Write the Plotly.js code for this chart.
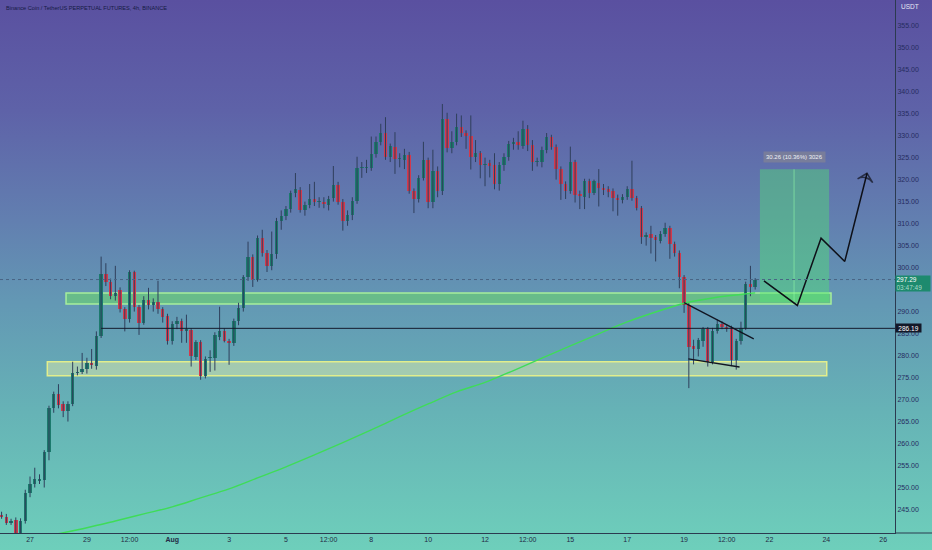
<!DOCTYPE html>
<html>
<head>
<meta charset="utf-8">
<script src="https://cdn.plot.ly/plotly-3.0.1.min.js"></script>
<style>
  html, body { margin: 0; padding: 0; }
  #chart { width: 932px; height: 550px;
    background: linear-gradient(to bottom, #5a50a0 0%, #5e62a8 20%, #627fb0 40%, #6398b4 55%, #66b3b6 75%, #6ecfbb 100%); }
</style>
</head>
<body>
<div id="chart"></div>
<script>
// ---- Data: BNB/USDT perpetual, 4h candles starting 2022-07-26 00:00 ----
const firstCandle = '2022-07-26T00:00:00Z';
const opens = [243.8,243.4,241.9,242.7,239.5,242.3,248.8,250.8,251.5,251.8,258.0,268.1,271.3,269.0,267.3,269.0,276.1,276.2,276.9,278.3,
  277.7,284.5,298.6,296.8,293.6,294.9,290.6,288.3,298.9,291.0,287.5,292.7,291.5,292.2,290.5,288.9,283.2,287.2,287.9,285.7,
  285.8,279.6,283.0,275.4,279.4,279.4,284.3,285.6,283.4,282.8,287.9,290.8,297.8,302.5,297.2,306.7,303.3,300.4,303.1,310.7,
  311.8,313.3,316.9,317.7,313.0,314.3,315.5,315.0,315.0,314.2,315.8,318.8,315.0,310.6,312.0,315.2,322.6,322.7,322.7,325.8,
  328.6,330.5,325.1,327.4,324.6,324.5,325.5,317.4,315.6,320.3,324.5,314.9,322.0,317.4,333.7,327.3,328.6,331.9,330.5,330.0,
  325.1,326.0,323.4,323.7,323.3,319.0,323.3,325.2,328.0,328.6,327.7,331.5,327.9,324.1,324.1,326.8,329.6,327.4,322.4,319.0,
  317.5,323.9,316.7,316.0,319.6,317.0,319.3,318.2,317.8,317.5,315.9,315.4,316.0,317.8,315.8,313.5,307.0,307.7,306.9,306.1,
  307.7,309.0,305.4,303.4,297.8,291.5,282.2,281.5,283.2,286.0,278.6,285.5,287.2,286.5,286.2,279.0,283.2,286.2,296.3,295.6];
const highs = [244.5,244.0,242.9,243.2,243.0,249.5,252.5,254.5,253.0,258.5,268.6,271.8,273.5,269.6,269.6,278.6,277.5,280.6,279.5,281.5,
  285.5,302.5,301.0,297.5,300.4,295.5,291.0,299.4,299.3,291.5,293.5,295.4,293.0,297.0,291.0,289.5,287.8,288.8,288.4,289.3,
  286.2,283.5,283.5,279.8,281.2,285.3,291.1,286.2,283.8,288.4,292.0,298.3,305.9,303.0,307.3,308.6,304.0,308.2,311.3,313.0,
  314.0,317.5,321.5,318.3,315.0,319.0,319.5,316.0,316.0,316.3,323.1,319.5,315.6,313.0,316.0,325.2,324.0,324.5,329.8,329.8,
  332.7,334.2,328.2,330.8,326.0,327.0,326.3,318.0,321.0,328.6,325.0,326.8,323.0,337.2,335.2,331.0,335.0,334.6,331.2,334.6,
  329.0,326.5,325.0,324.5,326.0,324.0,326.0,328.8,329.5,331.0,333.4,332.4,329.0,325.0,327.5,330.6,330.2,328.0,323.0,319.6,
  327.5,324.5,317.5,320.2,320.2,320.0,322.4,319.0,318.5,318.0,316.6,316.7,318.5,324.3,316.3,314.0,308.0,309.5,307.4,308.3,
  310.2,309.5,305.9,303.9,298.3,292.0,283.6,284.0,286.5,286.5,286.3,288.2,287.8,287.0,286.8,283.8,287.7,296.8,300.4,297.6];
const lows = [242.9,241.5,241.5,237.5,238.5,241.8,247.8,250.0,250.8,250.0,256.2,267.0,268.0,266.0,265.0,268.5,275.5,275.8,275.9,277.0,
  276.8,284.0,295.8,292.8,292.5,289.8,285.5,287.5,290.0,284.7,287.0,290.5,290.0,289.5,287.5,282.5,282.5,286.0,282.9,282.9,
  277.5,279.0,274.5,274.8,276.3,276.6,283.5,283.0,277.9,282.2,286.9,290.0,297.0,295.6,296.8,302.5,299.0,299.4,302.0,308.6,
  310.8,312.5,316.0,312.5,311.8,313.5,314.0,313.6,313.5,313.0,315.0,314.3,308.4,309.5,310.8,314.5,320.4,321.5,322.0,325.0,
  327.8,324.5,324.0,321.3,322.8,322.4,316.8,312.4,314.8,319.8,313.5,313.5,316.0,316.5,326.2,326.0,327.8,329.7,327.0,322.3,
  324.0,320.3,318.5,320.5,317.8,317.5,322.0,324.3,326.8,326.8,327.0,326.5,322.0,323.0,322.8,326.0,326.8,320.0,315.4,315.6,
  316.8,314.8,313.3,313.3,315.8,316.5,313.9,316.5,316.0,312.8,311.8,314.6,315.4,315.2,313.0,305.4,305.0,303.2,301.4,305.5,
  307.0,302.0,302.5,295.3,289.7,272.6,278.0,279.8,282.0,277.5,278.0,285.0,286.0,285.4,277.6,276.8,282.5,285.8,293.5,295.0];
const closes = [243.2,241.9,242.5,238.6,242.3,248.8,250.8,252.0,252.0,258.0,268.1,271.3,268.8,267.3,269.0,276.1,276.3,276.9,278.3,277.8,
  284.5,298.6,296.8,293.6,294.3,290.6,288.3,298.9,291.0,287.5,292.7,291.5,292.2,290.5,288.7,283.2,287.2,287.9,285.7,285.9,
  279.8,283.0,275.4,279.2,279.7,284.7,285.5,283.4,282.9,287.9,290.8,297.8,302.5,297.2,306.7,303.3,300.4,303.0,310.7,311.8,
  313.3,316.9,317.8,313.0,314.3,315.5,315.0,315.1,314.5,315.7,318.8,315.0,310.6,311.9,315.2,322.6,322.7,322.8,325.8,328.6,
  330.5,325.1,327.6,324.6,324.7,325.6,317.4,315.6,320.3,324.5,314.9,322.0,317.4,333.7,327.3,328.6,331.9,330.5,330.0,325.1,
  326.0,323.3,323.6,323.2,319.0,323.3,325.2,328.0,328.6,327.8,331.5,327.9,324.1,324.3,326.8,329.6,327.4,322.4,319.0,317.5,
  323.9,316.5,316.3,319.6,317.0,319.6,318.2,317.6,317.3,315.8,315.4,316.0,317.8,315.8,313.5,307.0,307.5,306.7,306.2,307.7,
  309.0,305.4,303.4,297.8,291.5,282.0,281.6,283.6,286.0,278.6,285.7,287.2,286.5,286.0,279.0,283.2,286.2,296.3,295.6,297.29];

// Moving average (green curve), sampled once a day
const maDates = ['2022-07-27','2022-07-28','2022-07-29','2022-07-30','2022-07-31','2022-08-01','2022-08-02','2022-08-03',
  '2022-08-04','2022-08-05','2022-08-06','2022-08-07','2022-08-08','2022-08-09','2022-08-10','2022-08-11','2022-08-12',
  '2022-08-13','2022-08-14','2022-08-15','2022-08-16','2022-08-17','2022-08-18','2022-08-19','2022-08-20','2022-08-21','2022-08-21 12:00'];
const maValues = [238.2,239.5,240.85,242.4,244.0,245.6,247.65,249.7,252.2,254.7,257.4,260.2,263.1,266.1,269.0,271.75,273.9,
  276.6,279.4,282.2,284.95,287.65,289.9,291.9,293.1,293.9,294.25];

// Drawings
const upperZone = [291.75, 294.2];   const upperZoneDates = ['2022-07-28 06:24', '2022-08-24 04:00'];
const lowerZone = [275.4, 278.6];    const lowerZoneDates = ['2022-07-27 14:36', '2022-08-24 00:24'];
const levelLine = 286.19;            const levelStart = '2022-07-29 12:00';
const lastPrice = 297.29;            const countdown = '03:47:49';
const wedgeUpper = {x: ['2022-08-19 00:00', '2022-08-21 10:48'], y: [292.05, 283.8]};
const wedgeLower = {x: ['2022-08-19 03:36', '2022-08-20 22:48'], y: [279.25, 277.4]};
const longBox = {x: ['2022-08-21 16:00', '2022-08-24 02:24'], y: [292.1, 322.36], mid: '2022-08-22 20:48'};
const longLabel = '30.26 (10.36%) 3026';
const arrowDates = ['2022-08-21 19:24','2022-08-22 23:36','2022-08-23 19:36','2022-08-24 15:36','2022-08-25 10:24'];
const arrowValues = [296.98, 291.4, 306.7, 301.4, 321.45];

// Axis ticks (295.00 sits under the last-price box in the reference)
const yTicks = [245,250,255,260,265,270,275,280,285,290,300,305,310,315,320,325,330,335,340,345,350,355];
const xTickDates = ['2022-07-27','2022-07-29','2022-07-30 12:00','2022-08-01','2022-08-03','2022-08-05','2022-08-06 12:00',
  '2022-08-08','2022-08-10','2022-08-12','2022-08-13 12:00','2022-08-15','2022-08-17','2022-08-19','2022-08-20 12:00',
  '2022-08-22','2022-08-24','2022-08-26'];
const xTickText = ['27','29','12:00','<b>Aug</b>','3','5','12:00','8','10','12','12:00','15','17','19','12:00','22','24','26'];
const xRange = ['2022-07-25 22:40', '2022-08-26 10:00'];
const yRange = [239.66, 360.84];

// ---- Build ----
const t0 = Date.parse(firstCandle);
const STEP = 4 * 3600 * 1000;
function fmt(ms) { return new Date(ms).toISOString().slice(0, 16).replace('T', ' '); }
const times = opens.map((_, k) => fmt(t0 + k * STEP));

const GREEN = '#1c7a6d', RED = '#d3394c', WICK = '#2f3f5c';
const wx = [], wy = [];
times.forEach((t, k) => { wx.push(t, t, null); wy.push(lows[k], highs[k], null); });
const bodyBase = opens.map((o, k) => Math.min(o, closes[k]));
const bodyLen = opens.map((o, k) => Math.max(Math.abs(closes[k] - o), 0.25));
const bodyCol = opens.map((o, k) => closes[k] >= o ? GREEN : RED);

const traces = [
  {type: 'scatter', mode: 'lines', x: wx, y: wy, line: {color: WICK, width: 1}, hoverinfo: 'skip', showlegend: false},
  {type: 'bar', x: times, y: bodyLen, base: bodyBase, width: STEP * 0.72,
   marker: {color: bodyCol, line: {width: 0}}, showlegend: false},
  {type: 'scatter', mode: 'lines', x: maDates, y: maValues, line: {color: '#3fdc58', width: 1.4, shape: 'spline'}, showlegend: false},
  {type: 'scatter', mode: 'lines+markers', x: arrowDates, y: arrowValues,
   line: {color: '#0e1018', width: 1.5},
   marker: {symbol: arrowValues.map((_, k) => k === arrowValues.length - 1 ? 'arrow-wide-open' : 'circle'),
            size: arrowValues.map((_, k) => k === arrowValues.length - 1 ? 11 : 0),
            angleref: 'previous', color: '#0e1018', line: {width: 1.5, color: '#0e1018'}},
   showlegend: false}
];

const shapes = [
  {type: 'rect', layer: 'below', xref: 'x', yref: 'y', x0: lowerZoneDates[0], x1: lowerZoneDates[1], y0: lowerZone[0], y1: lowerZone[1],
   fillcolor: 'rgba(240,245,170,0.45)', line: {color: '#e2ee8c', width: 1.5}},
  {type: 'rect', layer: 'below', xref: 'x', yref: 'y', x0: upperZoneDates[0], x1: upperZoneDates[1], y0: upperZone[0], y1: upperZone[1],
   fillcolor: 'rgba(110,225,95,0.5)', line: {color: '#a6ee9c', width: 1.5}},
  {type: 'rect', layer: 'below', xref: 'x', yref: 'y', x0: longBox.x[0], x1: longBox.x[1], y0: longBox.y[0], y1: longBox.y[1],
   fillcolor: 'rgba(80,235,110,0.40)', line: {width: 0}},
  {type: 'line', layer: 'below', xref: 'x', yref: 'y', x0: longBox.mid, x1: longBox.mid, y0: longBox.y[0], y1: longBox.y[1],
   line: {color: 'rgba(150,255,170,0.55)', width: 1}},
  {type: 'line', xref: 'paper', yref: 'y', x0: 0, x1: 1, y0: lastPrice, y1: lastPrice, line: {color: '#4a6585', width: 1, dash: 'dot'}},
  {type: 'line', xref: 'x', yref: 'y', x0: levelStart, x1: xRange[1], y0: levelLine, y1: levelLine, line: {color: '#141a2c', width: 1}},
  {type: 'line', xref: 'x', yref: 'y', x0: wedgeUpper.x[0], x1: wedgeUpper.x[1], y0: wedgeUpper.y[0], y1: wedgeUpper.y[1], line: {color: '#111522', width: 1.3}},
  {type: 'line', xref: 'x', yref: 'y', x0: wedgeLower.x[0], x1: wedgeLower.x[1], y0: wedgeLower.y[0], y1: wedgeLower.y[1], line: {color: '#111522', width: 1.3}},
  {type: 'line', xref: 'paper', yref: 'paper', x0: 1, x1: 1.05, y0: 0, y1: 0, line: {color: '#2b3a4f', width: 1}}
];

const annotations = [
  {xref: 'paper', yref: 'paper', x: 0.004, y: 0.985, xanchor: 'left', yanchor: 'middle', showarrow: false,
   text: 'Binance Coin / TetherUS PERPETUAL FUTURES, 4h, BINANCE', font: {family: 'Liberation Sans', size: 5.6, color: '#161b45'}},
  {xref: 'paper', yref: 'paper', x: 1, xshift: 4, y: 0.987, xanchor: 'left', yanchor: 'middle', showarrow: false,
   text: 'USDT', font: {family: 'Liberation Sans', size: 6.5, color: '#e6e8f4'}},
  {xref: 'paper', yref: 'y', x: 1, y: lastPrice, yshift: -3.5, xanchor: 'left', yanchor: 'middle', showarrow: false,
   text: lastPrice.toFixed(2) + '<br><span style="color:#a9dcc9">' + countdown + '</span>',
   bgcolor: '#1d8a6e', width: 33, height: 14, align: 'left', borderpad: 0.5,
   font: {family: 'Liberation Sans', size: 6.5, color: '#ffffff'}},
  {xref: 'paper', yref: 'y', x: 1, y: levelLine, xanchor: 'left', yanchor: 'middle', showarrow: false,
   text: levelLine.toFixed(2), bgcolor: '#131829', width: 24, height: 7, align: 'center', borderpad: 0.5,
   font: {family: 'Liberation Sans', size: 6.5, color: '#ffffff'}},
  {xref: 'x', yref: 'y', x: '2022-08-22 21:36', y: 325.05, showarrow: false, text: longLabel,
   bgcolor: 'rgba(125,128,152,0.85)', borderpad: 2, font: {family: 'Liberation Sans', size: 6, color: '#eef0f6'}}
];

const layout = {
  width: 932, height: 550,
  margin: {l: 0, r: 37, t: 0, b: 17, pad: 0},
  paper_bgcolor: 'rgba(0,0,0,0)', plot_bgcolor: 'rgba(0,0,0,0)',
  showlegend: false, bargap: 0,
  xaxis: {type: 'date', range: xRange, tickvals: xTickDates, ticktext: xTickText, showgrid: false, zeroline: false,
          showline: true, linecolor: '#2b3a4f', linewidth: 1, ticks: '', automargin: false, fixedrange: true,
          tickfont: {family: 'Liberation Sans', size: 7, color: '#232a45'}, rangeslider: {visible: false}},
  yaxis: {range: yRange, side: 'right', tickvals: yTicks, tickformat: '.2f', showgrid: false, zeroline: false,
          showline: true, linecolor: '#2b3a4f', linewidth: 1, ticks: '', automargin: false, fixedrange: true,
          tickfont: {family: 'Liberation Sans', size: 7, color: '#262c60'}},
  shapes: shapes, annotations: annotations
};

Plotly.newPlot('chart', traces, layout, {displayModeBar: false, staticPlot: true});
</script>
</body>
</html>
